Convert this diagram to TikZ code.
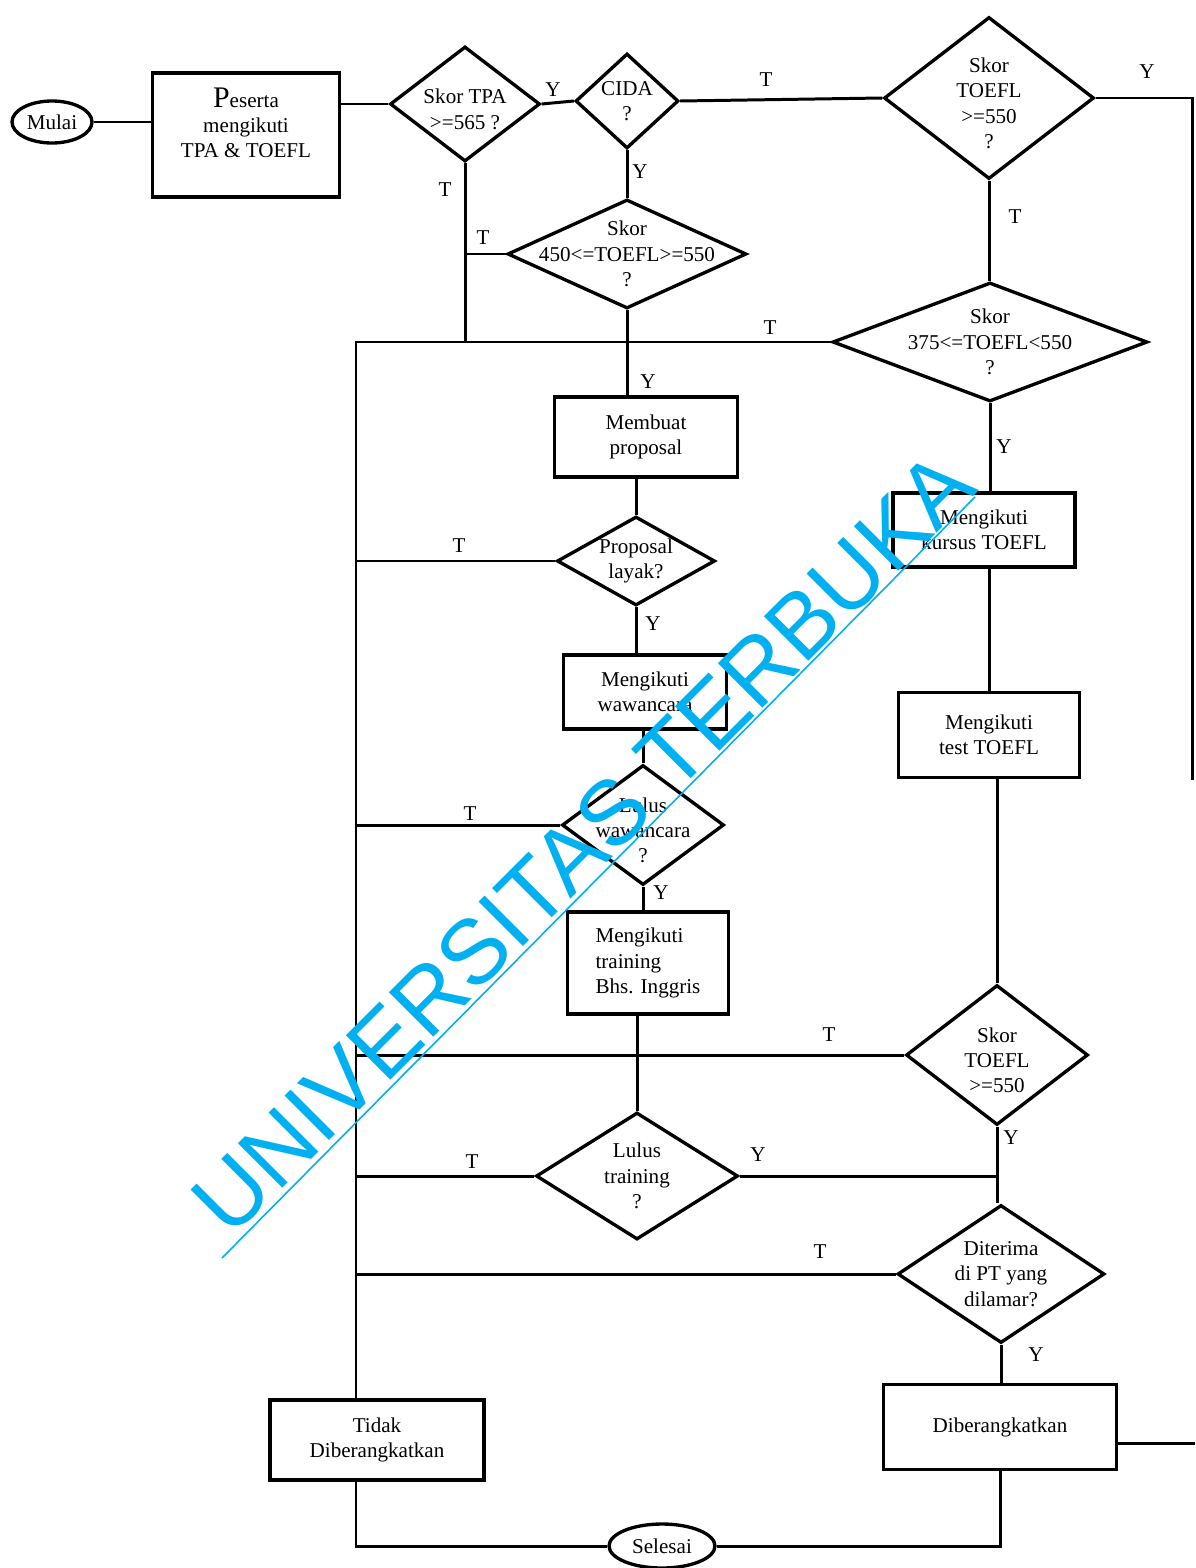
\documentclass[tikz,border=0pt]{standalone}
\usepackage{fontspec}
\setmainfont{Liberation Serif}
\newfontfamily\wmfont{Liberation Sans}
\usetikzlibrary{shapes.geometric}
\definecolor{utcyan}{RGB}{0,176,240}

\begin{document}
\begin{tikzpicture}[x=0.2mm,y=-0.2mm,
  txt/.style={font=\fontsize{12}{14.4}\selectfont,align=center,inner sep=0pt},
  box/.style 2 args={draw,line width=2.1pt,minimum width=#1*0.2mm,minimum height=#2*0.2mm,inner sep=1pt,txt},
  dia/.style 2 args={diamond,draw,line width=1.9pt,minimum width=#1*0.2mm,minimum height=#2*0.2mm,inner sep=0pt},
  term/.style 2 args={ellipse,draw,line width=1.9pt,minimum width=#1*0.2mm,minimum height=#2*0.2mm,inner sep=0pt,txt},
  e/.style={draw,line width=1.7pt},
  lab/.style={font=\fontsize{12}{12}\selectfont,inner sep=1pt},
  wm/.style={text=utcyan,font=\wmfont\fontsize{52}{52}\selectfont,inner sep=0pt},
  wmline/.style={draw=utcyan,line width=0.9pt}]
  \useasboundingbox (0,0) rectangle (1195,1568);
  % start and first check
  \node[term={80}{42}] (mulai) at (52,122) {Mulai};
  \node[box={187}{124},label={[txt,yshift=7pt]center:{{\fontsize{17}{17}\selectfont P}eserta\\mengikuti\\TPA \& TOEFL}}] (peserta) at (246,135) {};
  \node[dia={150}{115},label={[txt,yshift=-3pt]center:{Skor TPA\\>=565 ?}}] (tpa) at (465,104) {};
  \node[dia={103}{95},label={[txt]center:{CIDA\\?}}] (cida) at (627,101) {};
  \node[dia={210}{162},label={[txt,yshift=-3pt]center:{Skor\\TOEFL\\>=550\\?}}] (toefla) at (989,98) {};
  \node[dia={239}{109},label={[txt]center:{Skor\\450<=TOEFL>=550\\?}}] (skora) at (627,254) {};
  \node[dia={315}{119},label={[txt]center:{Skor\\375<=TOEFL<550\\?}}] (skorb) at (990,342) {};
  % middle column
  \node[box={183}{80}] (membuat) at (646,437) {Membuat\\proposal};
  \node[dia={158}{89},label={[txt]center:{Proposal\\layak?}}] (layak) at (636,561) {};
  \node[box={163}{74}] (wawancara) at (645,692) {Mengikuti\\wawancara};
  \node[dia={162}{120},label={[txt,yshift=-3pt]center:{Lulus\\wawancara\\?}}] (lulusw) at (643,825) {};
  \node[box={161}{102},align=left] (training) at (648,963) {Mengikuti\\training\\Bhs. Inggris};
  \node[dia={202}{127},label={[txt]center:{Lulus\\training\\?}}] (lulust) at (637,1176) {};
  % right column
  \node[box={182}{74}] (kursus) at (984,530) {Mengikuti\\kursus TOEFL};
  \node[box={181}{85}] (test) at (989,735) {Mengikuti\\test TOEFL};
  \node[dia={182}{140},label={[txt,yshift=-3pt]center:{Skor\\TOEFL\\>=550}}] (toeflb) at (997,1055) {};
  \node[dia={207}{138},label={[txt]center:{Diterima\\di PT yang\\dilamar?}}] (diterima) at (1001,1274) {};
  \node[box={233}{85}] (berangkat) at (1000,1427) {Diberangkatkan};
  % end
  \node[box={214}{80}] (tidak) at (377,1440) {Tidak\\Diberangkatkan};
  \node[term={106}{44}] (selesai) at (662,1546) {Selesai};
  % free ends of the rails
  \coordinate (ltop) at (356,342);
  \coordinate (rtop) at (1192,98); \coordinate (rend) at (1192,780);
  \coordinate (rout) at (1195,1443);
  % connectors
  \draw[e] (mulai.east) -- (mulai.east -| peserta.west);
  \draw[e] (tpa.west -| peserta.east) -- (tpa.west);
  \draw[e] (tpa.east) -- (cida.west);
  \draw[e] (cida.east) -- (toefla.west);
  \draw[e] (toefla.east) -- (rtop) -- (rend);
  \draw[e] (toefla.south) -- (toefla.south |- skorb.north);
  \draw[e] (tpa.south) -- (tpa.south |- ltop);
  \draw[e] (skora.west) -- (skora.west -| tpa.south);
  \draw[e] (cida.south) -- (skora.north);
  \draw[e] (skora.south) -- (skora.south |- membuat.north);
  \draw[e] (skorb.west) -- (ltop) -- (ltop |- tidak.north);
  \draw[e] (skorb.south) -- (skorb.south |- kursus.north);
  \draw[e] (layak.north |- membuat.south) -- (layak.north);
  \draw[e] (layak.west) -- (layak.west -| ltop);
  \draw[e] (layak.south) -- (layak.south |- wawancara.north);
  \draw[e] (lulusw.north |- wawancara.south) -- (lulusw.north);
  \draw[e] (lulusw.west) -- (lulusw.west -| ltop);
  \draw[e] (lulusw.south) -- (lulusw.south |- training.north);
  \draw[e] (lulust.north |- training.south) -- (lulust.north);
  \draw[e] (toeflb.west) -- (toeflb.west -| ltop);
  \draw[e] (lulust.west) -- (lulust.west -| ltop);
  \draw[e] (lulust.east) -- (lulust.east -| toeflb.south);
  \draw[e] (test.north |- kursus.south) -- (test.north);
  \draw[e] (toeflb.north |- test.south) -- (toeflb.north);
  \draw[e] (toeflb.south) -- (toeflb.south |- diterima.north);
  \draw[e] (diterima.west) -- (diterima.west -| ltop);
  \draw[e] (diterima.south) -- (diterima.south |- berangkat.north);
  \draw[e] (rout -| berangkat.east) -- (rout);
  \draw[e] (ltop |- tidak.south) -- (ltop |- selesai.west) -- (selesai.west);
  \draw[e] (selesai.east) -- (selesai.east -| berangkat.south) -- (berangkat.south);
  % branch labels
  \foreach \n/\x/\y/\t in {ya/553/90/Y, ta/766/80/T, yb/1147/72/Y, tb/445/190/T,
      tc/483/238/T, yc/640/172/Y, td/1015/217/T, te/770/328/T, yd/648/382/Y,
      ye/1004/447/Y, tf/459/546/T, yf/653/624/Y, tg/470/814/T, yg/661/893/Y,
      th/829/1035/T, yh/1011/1138/Y, yi/758/1155/Y, ti/472/1162/T,
      tj/820/1252/T, yj/1036/1355/Y}
    \node[lab] (\n) at (\x,\y) {\t};
  % watermark
  \coordinate (wa) at (222,1258); \coordinate (wb) at (975,497);
  \draw[wmline] (wa) -- (wb);
  \node[wm,rotate=45] (wmark) at (583,843) {UNIVERSITAS TERBUKA};
\end{tikzpicture}
\end{document}
